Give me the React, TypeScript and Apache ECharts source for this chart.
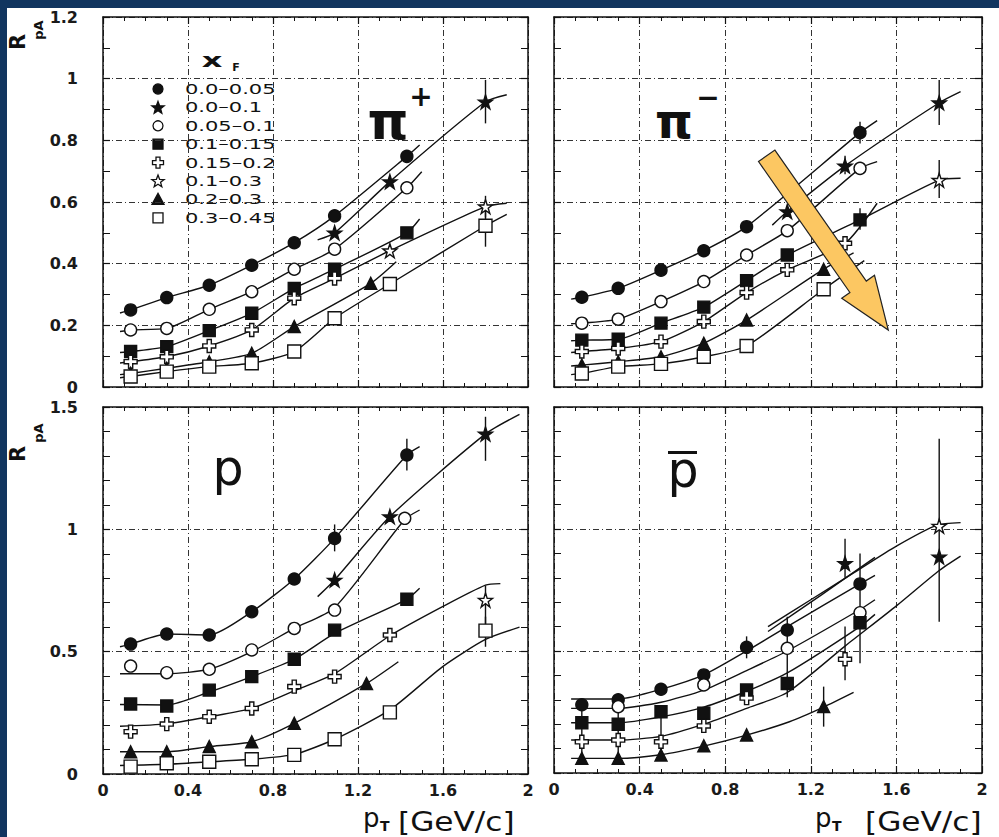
import { useEffect, useRef } from 'react';
import * as echarts from 'echarts';

// ---------------- tick labels ----------------
const X_TICK_LABELS = ['0', '0.4', '0.8', '1.2', '1.6', '2'];
const Y_TICK_LABELS_TOP = ['0', '0.2', '0.4', '0.6', '0.8', '1', '1.2'];
const Y_TICK_LABELS_BOTTOM = ['0', '0.5', '1', '1.5'];

// ---------------- legend: x_F bins ----------------
const XF_BINS = ['0.0–0.05', '0.0–0.1', '0.05–0.1', '0.1–0.15', '0.15–0.2', '0.1–0.3', '0.2–0.3', '0.3–0.45'];

// ---------------- π+ (top left) ----------------
const piPlusCircle = [[0.13, 0.25], [0.3, 0.29], [0.5, 0.33], [0.7, 0.395], [0.9, 0.468], [1.09, 0.555], [1.43, 0.748]];
const piPlusCircleFit = [[0.08, 0.24], ...piPlusCircle, [1.49, 0.785]];
const piPlusStar = [[1.09, 0.5], [1.35, 0.666], [1.8, 0.925]];
const piPlusStarFit = [[1.01, 0.477], ...piPlusStar, [1.9, 0.948]];
const piPlusOpenCircle = [[0.13, 0.185], [0.3, 0.19], [0.5, 0.252], [0.7, 0.309], [0.9, 0.382], [1.09, 0.447], [1.43, 0.646]];
const piPlusOpenCircleFit = [[0.08, 0.18], ...piPlusOpenCircle, [1.5, 0.698]];
const piPlusSquare = [[0.13, 0.115], [0.3, 0.131], [0.5, 0.183], [0.7, 0.239], [0.9, 0.32], [1.09, 0.382], [1.43, 0.5]];
const piPlusSquareFit = [[0.08, 0.112], ...piPlusSquare, [1.49, 0.545]];
const piPlusCross = [[0.13, 0.082], [0.3, 0.098], [0.5, 0.133], [0.7, 0.185], [0.9, 0.288], [1.09, 0.352]];
const piPlusOpenStar = [[1.35, 0.442], [1.8, 0.585]];
const piPlusCrossFit = [[0.08, 0.078], ...piPlusCross, ...piPlusOpenStar, [1.9, 0.596]];
const piPlusTriangle = [[0.13, 0.044], [0.3, 0.061], [0.5, 0.082], [0.7, 0.109], [0.9, 0.196], [1.26, 0.336]];
const piPlusTriangleFit = [[0.08, 0.04], ...piPlusTriangle, [1.38, 0.406]];
const piPlusOpenSquare = [[0.13, 0.034], [0.3, 0.05], [0.5, 0.066], [0.7, 0.077], [0.9, 0.115], [1.09, 0.223], [1.35, 0.334], [1.8, 0.523]];
const piPlusOpenSquareFit = [[0.08, 0.03], ...piPlusOpenSquare, [1.9, 0.56]];
const piPlusErr = [[1.8, 0.855, 0.996], [1.8, 0.55, 0.62], [1.8, 0.455, 0.585]];

// ---------------- π− (top right) ----------------
const piMinusCircle = [[0.13, 0.291], [0.3, 0.32], [0.5, 0.379], [0.7, 0.442], [0.9, 0.52], [1.43, 0.825]];
const piMinusCircleFit = [[0.08, 0.285], ...piMinusCircle, [1.51, 0.864]];
const piMinusStar = [[1.09, 0.569], [1.36, 0.717], [1.8, 0.922]];
const piMinusStarFit = [[1.02, 0.525], ...piMinusStar, [1.9, 0.958]];
const piMinusOpenCircle = [[0.13, 0.207], [0.3, 0.22], [0.5, 0.277], [0.7, 0.342], [0.9, 0.428], [1.09, 0.507], [1.43, 0.709]];
const piMinusOpenCircleFit = [[0.08, 0.205], ...piMinusOpenCircle, [1.51, 0.731]];
const piMinusSquare = [[0.13, 0.152], [0.3, 0.155], [0.5, 0.207], [0.7, 0.259], [0.9, 0.345], [1.09, 0.428], [1.43, 0.542]];
const piMinusOpenStar = [[1.8, 0.671]];
const piMinusSquareFit = [[0.08, 0.15], ...piMinusSquare, ...piMinusOpenStar, [1.9, 0.677]];
const piMinusCross = [[0.13, 0.115], [0.3, 0.125], [0.5, 0.147], [0.7, 0.212], [0.9, 0.306], [1.09, 0.38], [1.36, 0.466]];
const piMinusCrossFit = [[0.08, 0.112], ...piMinusCross, [1.51, 0.596]];
const piMinusTriangle = [[0.13, 0.071], [0.3, 0.082], [0.5, 0.098], [0.7, 0.142], [0.9, 0.217], [1.26, 0.382]];
const piMinusTriangleFit = [[0.08, 0.068], ...piMinusTriangle, [1.4, 0.435]];
const piMinusOpenSquare = [[0.13, 0.044], [0.3, 0.066], [0.5, 0.075], [0.7, 0.098], [0.9, 0.133], [1.26, 0.317]];
const piMinusOpenSquareFit = [[0.08, 0.04], ...piMinusOpenSquare, [1.45, 0.41]];
const piMinusErr = [[1.8, 0.85, 0.996], [1.8, 0.613, 0.736], [1.43, 0.79, 0.86], [1.43, 0.51, 0.58], [1.36, 0.69, 0.75]];

// ---------------- p (bottom left) ----------------
const pCircle = [[0.13, 0.531], [0.3, 0.572], [0.5, 0.568], [0.7, 0.663], [0.9, 0.797], [1.09, 0.963], [1.43, 1.304]];
const pCircleFit = [[0.08, 0.52], ...pCircle, [1.49, 1.338]];
const pStar = [[1.09, 0.793], [1.35, 1.052], [1.8, 1.39]];
const pStarFit = [[1.01, 0.725], ...pStar, [1.96, 1.47]];
const pOpenCircle = [[0.13, 0.441], [0.3, 0.414], [0.5, 0.428], [0.7, 0.507], [0.9, 0.595], [1.09, 0.67], [1.42, 1.045]];
const pOpenCircleFit = [[0.08, 0.41], [0.3, 0.41], [0.5, 0.428], [0.7, 0.5], [0.9, 0.595], [1.09, 0.68], [1.42, 1.04], [1.49, 1.079]];
const pSquare = [[0.13, 0.286], [0.3, 0.278], [0.5, 0.343], [0.7, 0.398], [0.9, 0.469], [1.09, 0.588], [1.43, 0.714]];
const pSquareFit = [[0.08, 0.284], [0.3, 0.282], [0.5, 0.335], [0.7, 0.398], [0.9, 0.469], [1.09, 0.575], [1.43, 0.714], [1.49, 0.759]];
const pCross = [[0.13, 0.173], [0.3, 0.204], [0.5, 0.234], [0.7, 0.268], [0.9, 0.357], [1.09, 0.398], [1.35, 0.568]];
const pOpenStar = [[1.8, 0.711]];
const pCrossFit = [[0.08, 0.195], [0.3, 0.205], [0.5, 0.234], [0.7, 0.268], [0.9, 0.34], [1.09, 0.41], [1.35, 0.565], [1.6, 0.685], [1.8, 0.772], [1.87, 0.778]];
const pTriangle = [[0.13, 0.091], [0.3, 0.091], [0.5, 0.112], [0.7, 0.132], [0.9, 0.207], [1.24, 0.37]];
const pTriangleFit = [[0.08, 0.091], ...pTriangle, [1.39, 0.459]];
const pOpenSquare = [[0.13, 0.03], [0.3, 0.044], [0.5, 0.05], [0.7, 0.06], [0.9, 0.078], [1.09, 0.142], [1.35, 0.252], [1.8, 0.586]];
const pOpenSquareFit = [[0.08, 0.035], [0.3, 0.04], [0.5, 0.05], [0.7, 0.06], [0.9, 0.08], [1.09, 0.142], [1.35, 0.262], [1.6, 0.44], [1.8, 0.55], [1.96, 0.6]];
const pErr = [[1.09, 0.91, 1.02], [1.43, 1.24, 1.37], [1.8, 1.28, 1.46], [1.8, 0.59, 0.77], [1.8, 0.52, 0.643]];

// ---------------- p̄ (bottom right) ----------------
const pbCircle = [[0.13, 0.28], [0.3, 0.3], [0.5, 0.343], [0.7, 0.402], [0.9, 0.515], [1.09, 0.586], [1.43, 0.775]];
const pbCircleFit = [[0.08, 0.303], [0.3, 0.303], [0.5, 0.343], [0.7, 0.402], [0.9, 0.5], [1.09, 0.6], [1.43, 0.775], [1.5, 0.81]];
const pbStar = [[1.36, 0.859], [1.8, 0.886]];
const pbStarFit = [[1.0, 0.58], [1.25, 0.73], [1.5, 0.884]];
const pbOpenCircle = [[0.3, 0.272], [0.7, 0.361], [1.09, 0.511], [1.43, 0.657]];
const pbOpenCircleFit = [[0.08, 0.265], [0.3, 0.265], [0.5, 0.29], [0.7, 0.34], [0.9, 0.42], [1.09, 0.5], [1.43, 0.67], [1.5, 0.71]];
const pbSquare = [[0.13, 0.206], [0.3, 0.2], [0.5, 0.251], [0.7, 0.245], [0.9, 0.34], [1.09, 0.367], [1.43, 0.616]];
const pbSquareFit = [[0.08, 0.206], [0.3, 0.206], [0.5, 0.23], [0.7, 0.27], [0.9, 0.335], [1.09, 0.41], [1.43, 0.6], [1.5, 0.65]];
const pbCross = [[0.13, 0.128], [0.3, 0.135], [0.5, 0.128], [0.7, 0.193], [0.9, 0.307], [1.36, 0.466]];
const pbCrossFit = [[0.08, 0.135], [0.3, 0.135], [0.5, 0.15], [0.7, 0.2], [0.9, 0.265], [1.09, 0.33], [1.36, 0.52], [1.6, 0.685], [1.8, 0.83], [1.9, 0.889]];
const pbOpenStar = [[1.8, 1.012]];
const pbOpenStarFit = [[1.0, 0.6], [1.2, 0.71], [1.4, 0.82], [1.6, 0.93], [1.79, 1.016], [1.9, 1.026]];
const pbTriangle = [[0.13, 0.06], [0.3, 0.06], [0.5, 0.074], [0.7, 0.111], [0.9, 0.156], [1.26, 0.272]];
const pbTriangleFit = [[0.08, 0.06], [0.3, 0.06], [0.5, 0.075], [0.7, 0.11], [0.9, 0.155], [1.1, 0.21], [1.26, 0.27], [1.4, 0.33]];
const pbErr = [[0.13, 0.055, 0.3], [0.3, 0.055, 0.31], [0.5, 0.075, 0.27], [0.9, 0.47, 0.56], [1.09, 0.31, 0.64], [1.36, 0.8, 0.96], [1.43, 0.45, 0.9], [1.36, 0.38, 0.6], [1.26, 0.19, 0.354], [1.8, 0.62, 1.37]];

// ---------------- panel assembly (k = x_F bin index) ----------------
const PANELS: { series: [number, number[][], number[][] | null][]; errors: number[][] }[] = [
  {
    series: [
      [0, piPlusCircle, piPlusCircleFit], [1, piPlusStar, piPlusStarFit], [2, piPlusOpenCircle, piPlusOpenCircleFit],
      [3, piPlusSquare, piPlusSquareFit], [4, piPlusCross, piPlusCrossFit], [5, piPlusOpenStar, null],
      [6, piPlusTriangle, piPlusTriangleFit], [7, piPlusOpenSquare, piPlusOpenSquareFit],
    ],
    errors: piPlusErr,
  },
  {
    series: [
      [0, piMinusCircle, piMinusCircleFit], [1, piMinusStar, piMinusStarFit], [2, piMinusOpenCircle, piMinusOpenCircleFit],
      [3, piMinusSquare, piMinusSquareFit], [4, piMinusCross, piMinusCrossFit], [5, piMinusOpenStar, null],
      [6, piMinusTriangle, piMinusTriangleFit], [7, piMinusOpenSquare, piMinusOpenSquareFit],
    ],
    errors: piMinusErr,
  },
  {
    series: [
      [0, pCircle, pCircleFit], [1, pStar, pStarFit], [2, pOpenCircle, pOpenCircleFit],
      [3, pSquare, pSquareFit], [4, pCross, pCrossFit], [5, pOpenStar, null],
      [6, pTriangle, pTriangleFit], [7, pOpenSquare, pOpenSquareFit],
    ],
    errors: pErr,
  },
  {
    series: [
      [0, pbCircle, pbCircleFit], [1, pbStar, pbStarFit], [2, pbOpenCircle, pbOpenCircleFit],
      [3, pbSquare, pbSquareFit], [4, pbCross, pbCrossFit], [5, pbOpenStar, pbOpenStarFit],
      [6, pbTriangle, pbTriangleFit],
    ],
    errors: pbErr,
  },
];

// ---------------- styling ----------------
const INK = '#111111';
const NAVY = '#11355f';
const STAR_PATH = 'path://M50,0L61.8,35.4L99,35.4L69,57.3L80.4,92.7L50,70.8L19.6,92.7L31,57.3L1,35.4L38.2,35.4Z';
const CROSS_PATH = 'path://M3.4,0H6.6V3.4H10V6.6H6.6V10H3.4V6.6H0V3.4H3.4Z';
const MARKERS = [
  { symbol: 'circle', size: 12, fill: INK, kind: 'circle' },
  { symbol: STAR_PATH, size: 14, fill: INK, kind: 'star' },
  { symbol: 'circle', size: 12, fill: '#fff', kind: 'circle' },
  { symbol: 'rect', size: 12, fill: INK, kind: 'rect' },
  { symbol: CROSS_PATH, size: 13, fill: '#fff', kind: 'cross' },
  { symbol: STAR_PATH, size: 14, fill: '#fff', kind: 'star' },
  { symbol: 'triangle', size: 12, fill: INK, kind: 'triangle' },
  { symbol: 'rect', size: 13, fill: '#fff', kind: 'rect' },
];

const GRIDS = [
  { left: 103, top: 17, width: 425, height: 370 },
  { left: 554, top: 17, width: 428, height: 370 },
  { left: 103, top: 407, width: 425, height: 367 },
  { left: 554, top: 407, width: 428, height: 366 },
];
const Y_MAX = [1.2, 1.2, 1.5, 1.5];
const Y_INT = [0.2, 0.2, 0.5, 0.5];
const Y_MINOR = [2, 2, 5, 5];

const GRID_LINE = { color: '#333', width: 1, type: [6, 3, 1, 3] as any };
const TICK_FONT = { color: '#1a1a1a', fontFamily: 'DejaVu Sans', fontWeight: 'bold' as const, fontSize: 16 };

function starPoints(cx: number, cy: number, R: number) {
  const pts: number[][] = [];
  for (let i = 0; i < 10; i++) {
    const r = i % 2 === 0 ? R : R * 0.42;
    const a = -Math.PI / 2 + (i * Math.PI) / 5;
    pts.push([cx + r * Math.cos(a), cy + r * Math.sin(a)]);
  }
  return pts;
}
function crossPoints(cx: number, cy: number, a: number, w: number) {
  return [
    [cx - w, cy - a], [cx + w, cy - a], [cx + w, cy - w], [cx + a, cy - w], [cx + a, cy + w], [cx + w, cy + w],
    [cx + w, cy + a], [cx - w, cy + a], [cx - w, cy + w], [cx - a, cy + w], [cx - a, cy - w], [cx - w, cy - w],
  ];
}
function legendMarker(k: number, cx: number, cy: number) {
  const m = MARKERS[k];
  const style = { fill: m.fill, stroke: INK, lineWidth: 1.3 };
  if (m.kind === 'circle') return { type: 'circle', shape: { cx, cy, r: 5 }, style };
  if (m.kind === 'rect') return { type: 'rect', shape: { x: cx - 5, y: cy - 5, width: 10, height: 10 }, style };
  if (m.kind === 'triangle') return { type: 'polygon', shape: { points: [[cx, cy - 6], [cx + 6, cy + 5], [cx - 6, cy + 5]] }, style };
  if (m.kind === 'star') return { type: 'polygon', shape: { points: starPoints(cx, cy + 0.5, 6.5) }, style };
  return { type: 'polygon', shape: { points: crossPoints(cx, cy, 5.5, 2) }, style };
}

function buildOption() {
  const xAxis: any[] = [];
  const yAxis: any[] = [];
  GRIDS.forEach((_, i) => {
    const common = {
      type: 'value', gridIndex: i, min: 0, max: 2, interval: 0.4,
      axisLine: { show: true, onZero: false, lineStyle: { color: INK, width: 1.5 } },
      axisTick: { show: true, inside: true, length: 7, lineStyle: { color: INK, width: 1.2 } },
      minorTick: { show: true, splitNumber: 4, length: 4, lineStyle: { color: INK, width: 1 } },
      minorSplitLine: { show: false },
    };
    xAxis.push({
      ...common, position: 'bottom',
      splitLine: { show: true, lineStyle: GRID_LINE },
      axisLabel: {
        show: i >= 2, margin: 8, ...TICK_FONT, showMinLabel: true, showMaxLabel: true,
        formatter: (v: number) => X_TICK_LABELS[Math.round(v / 0.4)] ?? '',
      },
    });
    xAxis.push({ ...common, position: 'top', splitLine: { show: false }, axisLabel: { show: false } });

    const yCommon = {
      type: 'value', gridIndex: i, min: 0, max: Y_MAX[i], interval: Y_INT[i],
      axisLine: { show: true, onZero: false, lineStyle: { color: INK, width: 1.5 } },
      axisTick: { show: true, inside: true, length: 7, lineStyle: { color: INK, width: 1.2 } },
      minorTick: { show: true, splitNumber: Y_MINOR[i], length: 7, lineStyle: { color: INK, width: 1 } },
      minorSplitLine: { show: false },
    };
    const yLabels = i < 2 ? Y_TICK_LABELS_TOP : Y_TICK_LABELS_BOTTOM;
    yAxis.push({
      ...yCommon, position: 'left',
      splitLine: { show: true, lineStyle: GRID_LINE },
      axisLabel: {
        show: i % 2 === 0, margin: 25, ...TICK_FONT, showMinLabel: true, showMaxLabel: true,
        formatter: (v: number) => yLabels[Math.round(v / Y_INT[i])] ?? '',
      },
    });
    yAxis.push({ ...yCommon, position: 'right', splitLine: { show: false }, axisLabel: { show: false } });
  });

  const series: any[] = [];
  PANELS.forEach((panel, i) => {
    const ax = { xAxisIndex: 2 * i, yAxisIndex: 2 * i };
    panel.series.forEach(([k, pts, fitLine]) => {
      if (fitLine) {
        series.push({
          type: 'line', ...ax, data: fitLine, smooth: 0.22,
          symbol: 'none', showSymbol: false, silent: true, z: 2,
          lineStyle: { color: INK, width: 1.4 },
        });
      }
      const m = MARKERS[k];
      series.push({
        type: 'scatter', name: XF_BINS[k], ...ax, data: pts, symbol: m.symbol, symbolSize: m.size,
        itemStyle: { color: m.fill, borderColor: INK, borderWidth: 1.4, opacity: 1 }, z: 4, silent: true,
      });
    });
    series.push({
      type: 'custom', ...ax, data: panel.errors, z: 3, silent: true,
      renderItem: (_p: any, api: any) => {
        const x = api.value(0);
        const a = api.coord([x, api.value(1)]);
        const b = api.coord([x, api.value(2)]);
        return { type: 'line', shape: { x1: a[0], y1: a[1], x2: b[0], y2: b[1] }, style: { stroke: INK, lineWidth: 1.4 } };
      },
    });
  });

  const graphic: any[] = [];
  // legend (x_F)
  graphic.push({ type: 'text', x: 212, y: 60, scaleX: 1.6, style: { text: 'x', fill: INK, font: 'bold 20px DejaVu Sans', align: 'center', verticalAlign: 'middle' } });
  graphic.push({ type: 'text', x: 236, y: 67, style: { text: 'F', fill: INK, font: 'bold 11px DejaVu Sans', align: 'center', verticalAlign: 'middle' } });
  XF_BINS.forEach((label, k) => {
    const cy = 89 + k * 18.4;
    graphic.push(legendMarker(k, 158, cy));
    graphic.push({ type: 'text', x: 185, y: cy, scaleX: 1.5, style: { text: label, fill: INK, font: '14px DejaVu Sans', align: 'left', verticalAlign: 'middle' } });
  });
  // panel labels
  graphic.push({ type: 'text', x: 388, y: 121, style: { text: 'π', fill: INK, font: 'bold 52px DejaVu Sans', align: 'center', verticalAlign: 'middle' } });
  graphic.push({ type: 'text', x: 421, y: 96, style: { text: '+', fill: INK, font: 'bold 28px DejaVu Sans', align: 'center', verticalAlign: 'middle' } });
  graphic.push({ type: 'text', x: 674, y: 121, style: { text: 'π', fill: INK, font: 'bold 48px DejaVu Sans', align: 'center', verticalAlign: 'middle' } });
  graphic.push({ type: 'text', x: 708, y: 97, style: { text: '−', fill: INK, font: 'bold 28px DejaVu Sans', align: 'center', verticalAlign: 'middle' } });
  graphic.push({ type: 'text', x: 228, y: 468, style: { text: 'p', fill: INK, font: '49px DejaVu Sans', align: 'center', verticalAlign: 'middle' } });
  graphic.push({ type: 'text', x: 683, y: 470, style: { text: 'p', fill: INK, font: '49px DejaVu Sans', align: 'center', verticalAlign: 'middle' } });
  graphic.push({ type: 'rect', shape: { x: 668, y: 451, width: 29, height: 3 }, style: { fill: INK } });
  // axis titles pT [GeV/c]
  [[363, 380, 398], [815, 832, 865]].forEach(([xp, xt, xb]) => {
    graphic.push({ type: 'text', x: xp, y: 818, style: { text: 'p', fill: INK, font: '26px DejaVu Sans', align: 'left', verticalAlign: 'middle' } });
    graphic.push({ type: 'text', x: xt, y: 826, style: { text: 'T', fill: INK, font: 'bold 14px DejaVu Sans', align: 'left', verticalAlign: 'middle' } });
    graphic.push({ type: 'text', x: xb, y: 822, scaleX: 1.2, style: { text: '[GeV/c]', fill: INK, font: '26px DejaVu Sans', align: 'left', verticalAlign: 'middle' } });
  });
  // R_pA
  [[42, 30], [454, 433]].forEach(([yR, yS]) => {
    graphic.push({ type: 'text', x: 18, y: yR, rotation: Math.PI / 2, style: { text: 'R', fill: INK, font: 'bold 21px DejaVu Sans', align: 'center', verticalAlign: 'middle' } });
    graphic.push({ type: 'text', x: 38, y: yS, rotation: Math.PI / 2, style: { text: 'pA', fill: INK, font: 'bold 13px DejaVu Sans', align: 'center', verticalAlign: 'middle' } });
  });
  // orange arrow (annotation)
  graphic.push({
    type: 'polygon', z: 50,
    shape: { points: [[758.5, 161.5], [774.9, 150.1], [866.3, 281.1], [874.5, 275.3], [888.3, 330], [841.7, 298.3], [849.9, 292.5]] },
    style: { fill: '#fcc762', stroke: '#222', lineWidth: 1.2 },
  });

  return {
    animation: false,
    backgroundColor: 'transparent',
    grid: GRIDS.map((g) => ({ ...g, containLabel: false })),
    xAxis, yAxis, series, graphic,
  };
}

export default function App() {
  const ref = useRef<HTMLDivElement>(null);
  useEffect(() => {
    if (!ref.current) return;
    const chart = echarts.init(ref.current, undefined, { renderer: 'svg' });
    chart.setOption(buildOption() as any);
    return () => chart.dispose();
  }, []);
  return (
    <div style={{ position: 'fixed', left: 0, top: 0, width: 999, height: 837, background: NAVY, overflow: 'hidden' }}>
      <div style={{ position: 'absolute', left: 7, top: 8, width: 992, height: 829, background: '#fff' }} />
      <div ref={ref} style={{ position: 'absolute', left: 0, top: 0, width: 999, height: 837 }} />
    </div>
  );
}
